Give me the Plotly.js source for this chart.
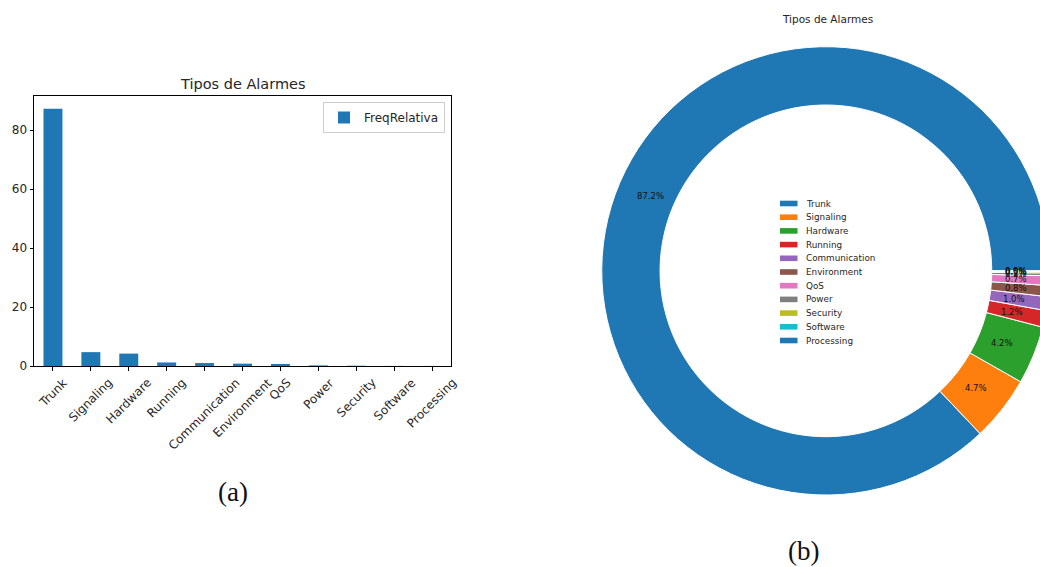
<!DOCTYPE html>
<html>
<head>
<meta charset="utf-8">
<script src="https://cdn.plot.ly/plotly-3.0.1.min.js"></script>
<style>
  html, body { margin: 0; padding: 0; overflow: hidden; background: #fff; }
  #chart { width: 1080px; height: 567px; }
</style>
</head>
<body>
<div id="chart"></div>
<script>
// Alarm types and their relative frequency (%)
const categories = ['Trunk', 'Signaling', 'Hardware', 'Running', 'Communication',
  'Environment', 'QoS', 'Power', 'Security', 'Software', 'Processing'];
const freqRelativa = [87.2, 4.7, 4.2, 1.2, 1.0, 0.8, 0.7, 0.2, 0.1, 0.03, 0.02];
const sliceColors = ['#1f77b4', '#ff7f0e', '#2ca02c', '#d62728', '#9467bd', '#8c564b',
  '#e377c2', '#7f7f7f', '#bcbd22', '#17becf', '#1f77b4'];
const yTicks = [0, 20, 40, 60, 80];
const chartTitle = 'Tipos de Alarmes';
const seriesName = 'FreqRelativa';

const W = 1080, H = 567;
const px = x => x / W;           // horizontal pixel -> paper
const py = y => 1 - y / H;       // vertical pixel (from top) -> paper

const FONT = 'DejaVu Sans, sans-serif';
const INK = '#262626';

// Donut geometry (pixels): outer box of the pie
const pieLeft = 601.7, pieRight = 1050.1, pieTop = 46.7, pieBottom = 495;
const pieCx = (pieLeft + pieRight) / 2, pieCy = (pieTop + pieBottom) / 2;
const pieR = (pieBottom - pieTop) / 2;
const pctDistance = 0.85;

// Donut starts at 3 o'clock and runs counterclockwise. Plotly's counterclockwise
// mode anchors the far edge of the first slice at `rotation`, so shift it back.
const total = freqRelativa.reduce((a, b) => a + b, 0);
const startRotation = 90 - 360 * freqRelativa[0] / total;

// (a) bar chart
const barTrace = {
  type: 'bar',
  x: categories,
  y: freqRelativa,
  name: seriesName,
  width: 0.5,
  marker: { color: '#1f77b4' },
  showlegend: true,
  legend: 'legend',
  hoverinfo: 'x+y'
};

// (b) donut chart
const pieTrace = {
  type: 'pie',
  labels: categories,
  values: freqRelativa,
  sort: false,
  direction: 'counterclockwise',
  rotation: startRotation,
  hole: 0.74,
  marker: { colors: sliceColors, line: { color: '#ffffff', width: 1 } },
  textinfo: 'none',
  showlegend: false,
  domain: { x: [px(pieLeft), px(pieRight)], y: [py(pieBottom), py(pieTop)] },
  hoverinfo: 'label+percent'
};

const annotations = [];
const shapes = [];

// Rotated category labels, centred under each tick
categories.forEach(c => {
  annotations.push({
    text: c, x: c, xref: 'x', y: py(366), yref: 'paper',
    xanchor: 'center', yanchor: 'top', yshift: -7,
    textangle: -45, showarrow: false,
    font: { family: FONT, size: 12, color: INK }
  });
});

// Percentage label of each slice, placed on the slice's mid-angle inside the ring
let cum = 0;
freqRelativa.forEach(v => {
  const theta = 2 * Math.PI * (cum + v / 2) / total;
  cum += v;
  const lx = pieCx + pctDistance * pieR * Math.cos(theta);
  const ly = pieCy - pctDistance * pieR * Math.sin(theta);
  annotations.push({
    text: v.toFixed(1) + '%', x: px(lx), y: py(ly), xref: 'paper', yref: 'paper',
    xanchor: 'center', yanchor: 'middle', showarrow: false,
    font: { family: FONT, size: 8.5, color: '#111' }
  });
});

// Titles of both panels
annotations.push({
  text: chartTitle, x: px(242.5), y: py(84), xref: 'paper', yref: 'paper',
  xanchor: 'center', yanchor: 'middle', showarrow: false,
  font: { family: FONT, size: 14.5, color: INK }
});
annotations.push({
  text: chartTitle, x: px(827), y: py(19), xref: 'paper', yref: 'paper',
  xanchor: 'center', yanchor: 'middle', showarrow: false,
  font: { family: FONT, size: 10.5, color: INK }
});

// Sub-figure captions
annotations.push({
  text: '(a)', x: px(233), y: py(492), xref: 'paper', yref: 'paper',
  xanchor: 'center', yanchor: 'middle', showarrow: false,
  font: { family: 'Liberation Serif, serif', size: 27, color: '#111' }
});
annotations.push({
  text: '(b)', x: px(803.5), y: py(551), xref: 'paper', yref: 'paper',
  xanchor: 'center', yanchor: 'middle', showarrow: false,
  font: { family: 'Liberation Serif, serif', size: 27, color: '#111' }
});

// Legend inside the donut, one entry per slice
categories.forEach((c, i) => {
  const yc = 203.5 + i * 13.7;
  shapes.push({
    type: 'rect', xref: 'paper', yref: 'paper',
    x0: px(780), x1: px(797.5), y0: py(yc + 2.8), y1: py(yc - 2.8),
    fillcolor: sliceColors[i], line: { width: 0 }
  });
  annotations.push({
    text: c, x: px(804), y: py(yc), xref: 'paper', yref: 'paper',
    xanchor: 'left', yanchor: 'middle', showarrow: false,
    font: { family: FONT, size: 8.8, color: INK }
  });
});

const layout = {
  width: W, height: H,
  margin: { l: 0, r: 0, t: 0, b: 0 },
  paper_bgcolor: '#ffffff',
  plot_bgcolor: '#ffffff',
  font: { family: FONT, color: INK },
  xaxis: {
    domain: [px(34), px(451)],
    type: 'category',
    range: [-0.5, 10.5],
    showticklabels: false,
    ticks: 'outside', ticklen: 3.5, tickwidth: 1, tickcolor: '#000',
    showline: true, linecolor: '#000', linewidth: 1, mirror: true,
    showgrid: false, zeroline: false, fixedrange: true
  },
  yaxis: {
    domain: [py(366), py(96)],
    range: [0, 91.56],
    tickmode: 'array', tickvals: yTicks,
    ticks: 'outside', ticklen: 3.5, tickwidth: 1, tickcolor: '#000',
    tickfont: { family: FONT, size: 12, color: INK },
    showline: true, linecolor: '#000', linewidth: 1, mirror: true,
    showgrid: false, zeroline: false, fixedrange: true
  },
  legend: {
    x: px(445), y: py(102), xanchor: 'right', yanchor: 'top',
    bgcolor: 'rgba(255,255,255,0.8)', bordercolor: '#cccccc', borderwidth: 1,
    font: { family: FONT, size: 12, color: INK }
  },
  annotations: annotations,
  shapes: shapes
};

Plotly.newPlot('chart', [barTrace, pieTrace], layout, { displayModeBar: false, staticPlot: true });
</script>
</body>
</html>
